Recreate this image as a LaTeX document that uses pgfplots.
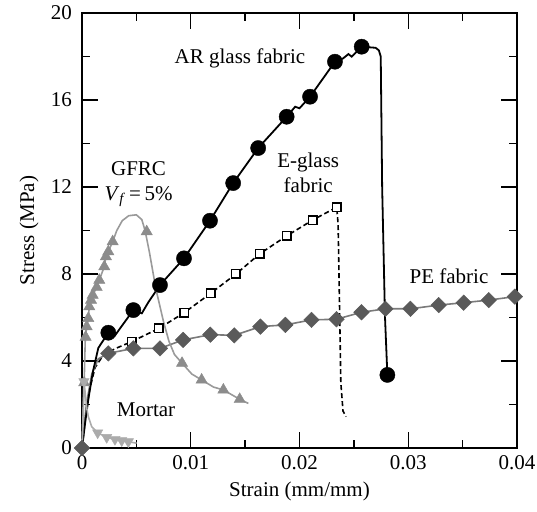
\documentclass[border=0pt]{standalone}
\usepackage{fontspec}
\setmainfont{Liberation Serif}
\usepackage{pgfplots}
\pgfplotsset{compat=1.18}
\definecolor{cGfrc}{HTML}{8C8C8C}
\definecolor{cGfrcLine}{HTML}{9A9A9A}
\definecolor{cMortar}{HTML}{ABABAB}
\definecolor{cPE}{HTML}{5A5A5A}
\definecolor{cPELine}{HTML}{7A7A7A}

\begin{document}
\fontsize{21}{25}\selectfont
\begin{tikzpicture}
\begin{axis}[
  name=ax,
  width=435pt, height=435pt, scale only axis,
  xmin=0, xmax=0.04, ymin=0, ymax=20,
  xtick={0,0.01,0.02,0.03,0.04},
  xticklabels={0,0.01,0.02,0.03,0.04},
  scaled x ticks=false,
  ytick={0,4,8,12,16,20},
  minor x tick num=1, minor y tick num=1,
  tick align=inside,
  major tick length=16pt, minor tick length=8pt,
  every tick/.style={black, line width=1.3pt},
  axis line style={line width=1.5pt},
  /pgf/number format/assume math mode=true,
  tick label style={font=\fontsize{21}{25}\selectfont},
  label style={font=\fontsize{21}{25}\selectfont},
  yticklabel style={xshift=-3pt},
  xlabel={Strain (mm/mm)},
  ylabel={Stress (MPa)},
  xlabel style={yshift=2pt},
  ylabel style={yshift=-2pt},
  clip=false,
]
% E-glass fabric
\addplot[black, line width=1.6pt, dash pattern=on 5pt off 3pt] coordinates {
  (0,0) (0.0003,1.3) (0.0007,2.7) (0.0012,3.7) (0.002,4.3) (0.0032,4.6)
  (0.00457,4.89) (0.00708,5.50) (0.0094,6.22) (0.01183,7.11) (0.01416,8.0)
  (0.01635,8.93) (0.01882,9.75) (0.02121,10.48) (0.02342,11.07)
  (0.02355,10.3) (0.0237,6) (0.0238,3) (0.0240,1.7) (0.02428,1.44)
};
\addplot[only marks, mark=square*, mark size=4.3pt,
  mark options={fill=white, draw=black, line width=1.6pt, solid}] coordinates {
  (0.00457,4.89) (0.00708,5.50) (0.0094,6.22) (0.01183,7.11) (0.01416,8.0)
  (0.01635,8.93) (0.01882,9.75) (0.02121,10.48) (0.02342,11.07)
};
% PE fabric
\addplot[cPELine, line width=1.6pt] coordinates {
  (0,0) (0.0004,2.0) (0.0009,3.4) (0.0015,4.1) (0.00242,4.35) (0.00472,4.58)
  (0.00717,4.58) (0.0093,4.97) (0.0118,5.21) (0.014,5.18) (0.0164,5.58)
  (0.0187,5.66) (0.0211,5.89) (0.0234,5.92) (0.0257,6.24) (0.0279,6.40)
  (0.0302,6.40) (0.0328,6.57) (0.0351,6.68) (0.0374,6.80) (0.0398,6.96) (0.04,6.97)
};
\addplot[only marks, mark=square*, mark size=5.5pt,
  mark options={fill=cPE, draw=cPE, rotate=45}] coordinates {
  (0,0) (0.00242,4.35) (0.00472,4.58)
  (0.00717,4.58) (0.0093,4.97) (0.0118,5.21) (0.014,5.18) (0.0164,5.58)
  (0.0187,5.66) (0.0211,5.89) (0.0234,5.92) (0.0257,6.24) (0.0279,6.40)
  (0.0302,6.40) (0.0328,6.57) (0.0351,6.68) (0.0374,6.80) (0.0398,6.96)
};
% AR glass fabric
\addplot[black, line width=1.8pt] coordinates {
  (0,0) (0.0003,1.2) (0.0006,2.3) (0.001,3.5) (0.0015,4.6) (0.00242,5.30)
  (0.0030,5.15) (0.0035,5.5) (0.00472,6.34) (0.0055,6.19) (0.0061,6.7)
  (0.00717,7.49) (0.00938,8.72) (0.01177,10.45) (0.0139,12.18) (0.0162,13.79)
  (0.01882,15.23) (0.0196,15.69) (0.0200,15.62) (0.02097,16.15) (0.02326,17.76)
  (0.0240,17.91) (0.0245,18.11) (0.0248,17.99) (0.02572,18.45) (0.0270,18.40)
  (0.0273,18.28) (0.02747,18.0) (0.0276,12) (0.02786,6.04) (0.02808,3.36)
};
\addplot[only marks, mark=*, mark size=7.6pt, mark options={fill=black, draw=black}] coordinates {
  (0.00242,5.30) (0.00472,6.34) (0.00717,7.49) (0.00938,8.72) (0.01177,10.45)
  (0.0139,12.18) (0.0162,13.79) (0.01882,15.23) (0.02097,16.15) (0.02326,17.76)
  (0.02572,18.45) (0.02808,3.36)
};
% GFRC
\addplot[cGfrcLine, line width=1.6pt] coordinates {
  (0,0) (0.0001,1.5) (0.0002,3.0) (0.0003,5.0) (0.00043,5.58) (0.00058,5.96)
  (0.00067,6.5) (0.00083,6.8) (0.00098,7.03) (0.00135,7.39) (0.00159,7.72)
  (0.00205,8.34) (0.0022,8.8) (0.00242,9.03) (0.00282,9.49) (0.0032,10.0)
  (0.0037,10.45) (0.0043,10.68) (0.0050,10.72) (0.0055,10.5) (0.0058,10.0)
  (0.0062,9.0) (0.0068,7.3) (0.0075,5.8) (0.0080,4.9) (0.0085,4.3) (0.0092,3.9)
  (0.0101,3.4) (0.0110,3.13) (0.0121,2.8) (0.0130,2.67) (0.0145,2.24) (0.0153,2.05)
};
\addplot[only marks, mark=triangle*, mark size=6.5pt, mark options={fill=cGfrc, draw=cGfrc}] coordinates {
  (0.0002,3.0) (0.00033,5.1) (0.00043,5.58) (0.00058,5.96) (0.00067,6.5) (0.00083,6.8)
  (0.00098,7.03) (0.00135,7.39) (0.00159,7.72) (0.00205,8.34) (0.0022,8.8)
  (0.00242,9.03) (0.00282,9.49) (0.00595,9.95) (0.0092,3.9) (0.0110,3.13)
  (0.0130,2.67) (0.0145,2.24)
};
% Mortar
\addplot[cMortar, line width=1.6pt] coordinates {
  (0,0) (0.0001,1.5) (0.00018,3.05) (0.0003,2.5) (0.00045,1.8) (0.00058,1.44)
  (0.00089,0.98) (0.00144,0.70) (0.00227,0.49) (0.00303,0.40) (0.00365,0.34)
  (0.00426,0.29) (0.00503,0.22)
};
\addplot[only marks, mark=triangle*, mark size=6pt,
  mark options={fill=cMortar, draw=cMortar, rotate=180}] coordinates {
  (0.00018,3.05) (0.00144,0.70) (0.00227,0.49) (0.00303,0.40) (0.00365,0.34)
  (0.00426,0.29)
};
% labels
\node at (axis cs:0.01453,17.93) {AR glass fabric};
\node[align=center] at (axis cs:0.0208,12.64) {E-glass\\fabric};
\node[align=center] at (axis cs:0.0052,12.15) {GFRC\\\textit{V}\textsubscript{\textit{f}}\,=\,5\%};
\node at (axis cs:0.03375,7.91) {PE fabric};
\node at (axis cs:0.00589,1.75) {Mortar};
\end{axis}
\pgfresetboundingbox
\path[use as bounding box] ([shift={(-82pt,-64pt)}]ax.south west) rectangle ([shift={(20pt,13pt)}]ax.north east);
\end{tikzpicture}
\end{document}
